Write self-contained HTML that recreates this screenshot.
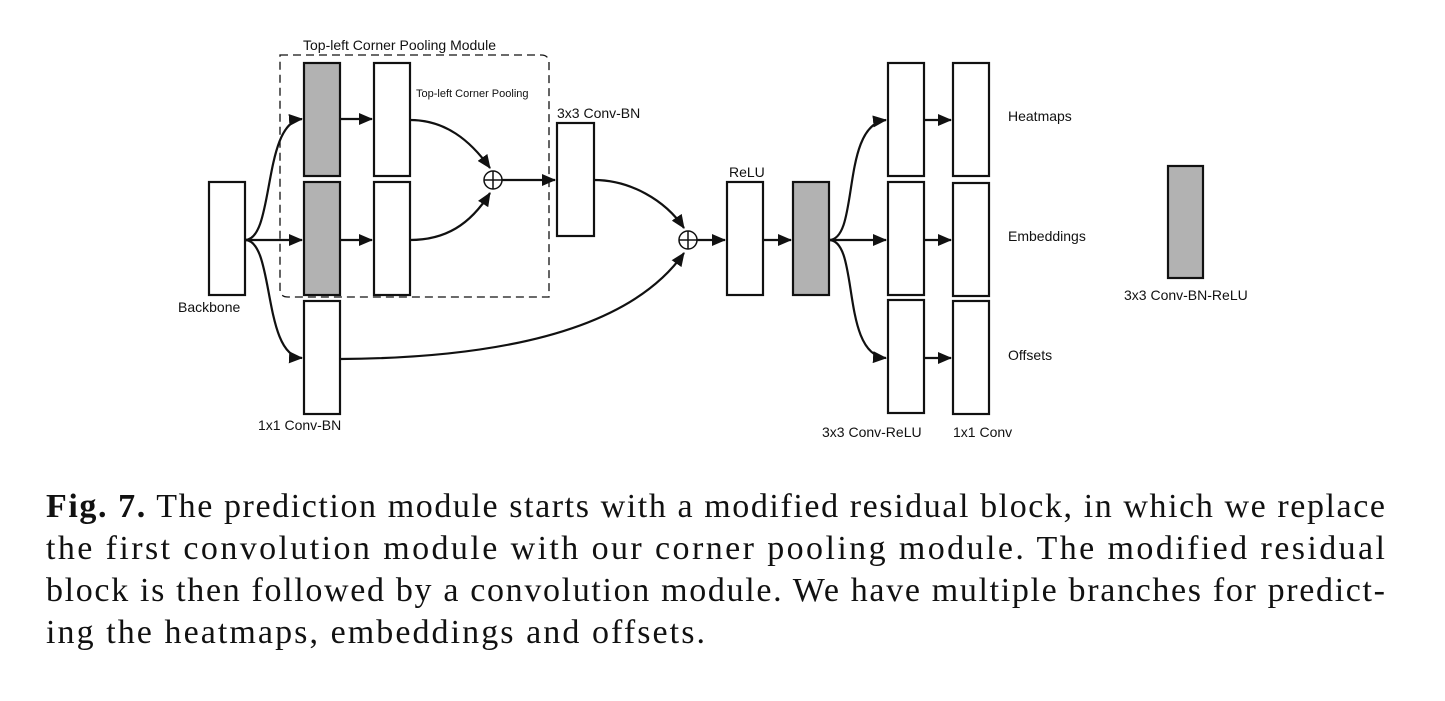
<!DOCTYPE html>
<html><head><meta charset="utf-8"><style>
html,body{margin:0;padding:0;background:#fff;width:1445px;height:701px;overflow:hidden}
svg{display:block}
.s{font-family:"Liberation Sans","DejaVu Sans",sans-serif;font-size:14px;fill:#111}
.c{font-family:"Liberation Serif",serif;font-size:34px;fill:#111}
</style></head><body>
<svg width="1445" height="701" viewBox="0 0 1445 701" xmlns="http://www.w3.org/2000/svg">
<defs>
<marker id="a" markerWidth="14" markerHeight="12" refX="13" refY="6" orient="auto" markerUnits="userSpaceOnUse">
<path d="M0,0 L14,6 L0,12 z" fill="#111"/></marker>
</defs>
<g fill="none" stroke="#111" stroke-width="2.2">
<path d="M280,55 H541 Q549,55 549,63 V297 H288 Q280,297 280,289 Z" stroke-dasharray="8,5" stroke-width="1.3"/>
<rect x="209" y="182" width="36" height="113" fill="#fff"/>
<rect x="304" y="63" width="36" height="113" fill="#b2b2b2"/>
<rect x="374" y="63" width="36" height="113" fill="#fff"/>
<rect x="304" y="182" width="36" height="113" fill="#b2b2b2"/>
<rect x="374" y="182" width="36" height="113" fill="#fff"/>
<rect x="304" y="301" width="36" height="113" fill="#fff"/>
<rect x="557" y="123" width="37" height="113" fill="#fff"/>
<rect x="727" y="182" width="36" height="113" fill="#fff"/>
<rect x="793" y="182" width="36" height="113" fill="#b2b2b2"/>
<rect x="888" y="63" width="36" height="113" fill="#fff"/>
<rect x="888" y="182" width="36" height="113" fill="#fff"/>
<rect x="888" y="300" width="36" height="113" fill="#fff"/>
<rect x="953" y="63" width="36" height="113" fill="#fff"/>
<rect x="953" y="183" width="36" height="113" fill="#fff"/>
<rect x="953" y="301" width="36" height="113" fill="#fff"/>
<rect x="1168" y="166" width="35" height="112" fill="#b2b2b2"/>
<circle cx="493" cy="180" r="9" stroke-width="1.5"/>
<path d="M484,180 H502 M493,171 V189" stroke-width="1.5"/>
<circle cx="688" cy="240" r="9" stroke-width="1.5"/>
<path d="M679,240 H697 M688,231 V249" stroke-width="1.5"/>
<path d="M245,240 C275,240 262,122 302,119" marker-end="url(#a)"/>
<path d="M245,240 H302" marker-end="url(#a)"/>
<path d="M245,240 C275,240 262,356 302,358" marker-end="url(#a)"/>
<path d="M340,119 H372" marker-end="url(#a)"/>
<path d="M340,240 H372" marker-end="url(#a)"/>
<path d="M410,120 C445,120 470,140 490,168" marker-end="url(#a)"/>
<path d="M410,240 C445,240 470,225 490,193" marker-end="url(#a)"/>
<path d="M502,180 H555" marker-end="url(#a)"/>
<path d="M594,180 C630,180 665,200 684,228" marker-end="url(#a)"/>
<path d="M340,359 C500,358 630,330 684,253" marker-end="url(#a)"/>
<path d="M697,240 H725" marker-end="url(#a)"/>
<path d="M763,240 H791" marker-end="url(#a)"/>
<path d="M829,240 C860,240 840,125 886,120" marker-end="url(#a)"/>
<path d="M829,240 H886" marker-end="url(#a)"/>
<path d="M829,240 C860,240 840,355 886,358" marker-end="url(#a)"/>
<path d="M924,120 H951" marker-end="url(#a)"/>
<path d="M924,240 H951" marker-end="url(#a)"/>
<path d="M924,358 H951" marker-end="url(#a)"/>
</g>
<text class="s" x="303" y="50">Top-left Corner Pooling Module</text>
<text class="s" x="416" y="97" style="font-size:11px">Top-left Corner Pooling</text>
<text class="s" x="557" y="118">3x3 Conv-BN</text>
<text class="s" x="178" y="312">Backbone</text>
<text class="s" x="258" y="430">1x1 Conv-BN</text>
<text class="s" x="729" y="177">ReLU</text>
<text class="s" x="1008" y="121">Heatmaps</text>
<text class="s" x="1008" y="241">Embeddings</text>
<text class="s" x="1008" y="360">Offsets</text>
<text class="s" x="822" y="437">3x3 Conv-ReLU</text>
<text class="s" x="953" y="437">1x1 Conv</text>
<text class="s" x="1124" y="300">3x3 Conv-BN-ReLU</text>
<text class="c" x="46" y="517" textLength="1339" lengthAdjust="spacing"><tspan font-weight="bold">Fig. 7.</tspan> The prediction module starts with a modified residual block, in which we replace</text>
<text class="c" x="46" y="559" textLength="1339" lengthAdjust="spacing">the first convolution module with our corner pooling module. The modified residual</text>
<text class="c" x="46" y="601" textLength="1339" lengthAdjust="spacing">block is then followed by a convolution module. We have multiple branches for predict-</text>
<text class="c" x="46" y="643" textLength="659" lengthAdjust="spacing">ing the heatmaps, embeddings and offsets.</text>
</svg>
</body></html>
